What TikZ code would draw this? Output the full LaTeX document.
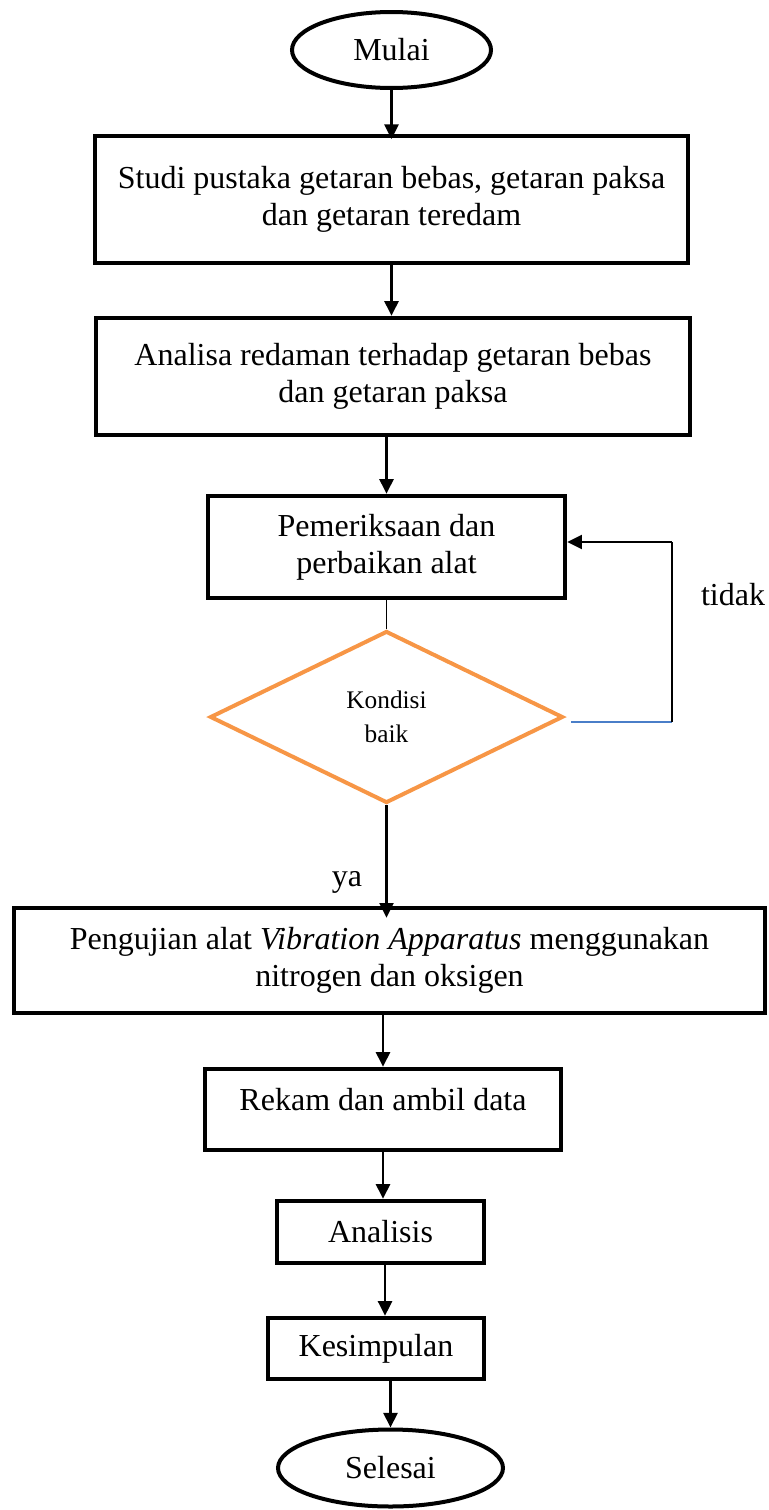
\documentclass[tikz,border=0pt]{standalone}
\usepackage{fontspec}
\setmainfont{Liberation Serif}
\usetikzlibrary{shapes.geometric,arrows.meta}
\definecolor{dorange}{HTML}{F79646}
\definecolor{lblue}{HTML}{4A7EC8}
\newcommand\bigtxt{\fontsize{24}{27.75}\selectfont}
\newcommand\smalltxt{\fontsize{19}{25.5}\selectfont}
\begin{document}
\begin{tikzpicture}[x=0.75pt,y=-0.75pt,
  bx/.style 2 args={draw, line width=3.4pt, rectangle, minimum width=#1*0.75pt, minimum height=#2*0.75pt, inner sep=0pt, align=center, font=\bigtxt},
  term/.style 2 args={draw, line width=3pt, ellipse, minimum width=#1*0.75pt, minimum height=#2*0.75pt, inner sep=0pt, font=\bigtxt},
  arr/.style={line width=2pt, -{Triangle[width=10.5pt,length=11pt]}},
  thinline/.style={line width=1.3pt},
  lbl/.style={font=\bigtxt, inner sep=0pt}
]
\useasboundingbox (0,0) rectangle (768,1510);

\node[term={199}{76}] (start) at (391.5,50) {Mulai};
\node[bx={593}{127}] (b1) at (391.5,199.5) {Studi pustaka getaran bebas, getaran paksa\\dan getaran teredam};
\node[bx={594}{117}] (b2) at (393,376.5) {Analisa redaman terhadap getaran bebas\\dan getaran paksa};
\node[bx={357}{102}] (proc) at (386.5,547) {Pemeriksaan dan\\perbaikan alat};
\node[draw=dorange, line width=3pt, diamond, minimum width=353*0.75pt, minimum height=172*0.75pt, inner sep=0pt, align=center, font=\smalltxt] (dec) at (386.5,717) {Kondisi\\baik};
\node[bx={751}{105}] (test) at (389.5,960.5) {Pengujian alat \textit{Vibration Apparatus} menggunakan\\nitrogen dan oksigen};
\node[bx={356}{81}, text depth=15pt] (rek) at (383,1109.5) {Rekam dan ambil data};
\node[bx={207}{62}] (an) at (380.5,1232) {Analisis};
\node[bx={216}{61}] (kes) at (376,1348.5) {Kesimpulan};
\node[term={225}{77}] (end) at (390.5,1468) {Selesai};

\node[lbl] (tidak) at (733,595) {tidak};
\node[lbl] (ya) at (347,882) {ya};

\coordinate (c1) at (672,722);
\coordinate (c2) at (672,542);

\draw[arr, shorten >=-4pt] (start.south) -- (start.south |- b1.north);
\draw[arr] (b1.south) -- (b1.south |- b2.north);
\draw[arr] (proc.north |- b2.south) -- (proc.north);
\draw[thinline] (proc.south) -- (dec.north);
\draw[lblue, line width=1.3pt] ([shift={(6,5)}]dec.east) -- (c1);
\draw[thinline] (c1) -- (c2);
\draw[line width=1.5pt, -{Triangle[width=10.5pt,length=11pt]}] (c2) -- (c2 -| proc.east);
\draw[arr, line width=1.6pt, shorten >=-9pt] (dec.south) -- (dec.south |- test.north);
\draw[arr] (rek.north |- test.south) -- (rek.north);
\draw[arr] (rek.south) -- (rek.south |- an.north);
\draw[arr] ([xshift=3.4pt]an.south) -- ([xshift=3.4pt]an.south |- kes.north);
\draw[arr] (end.north |- kes.south) -- (end.north);
\end{tikzpicture}
\end{document}
